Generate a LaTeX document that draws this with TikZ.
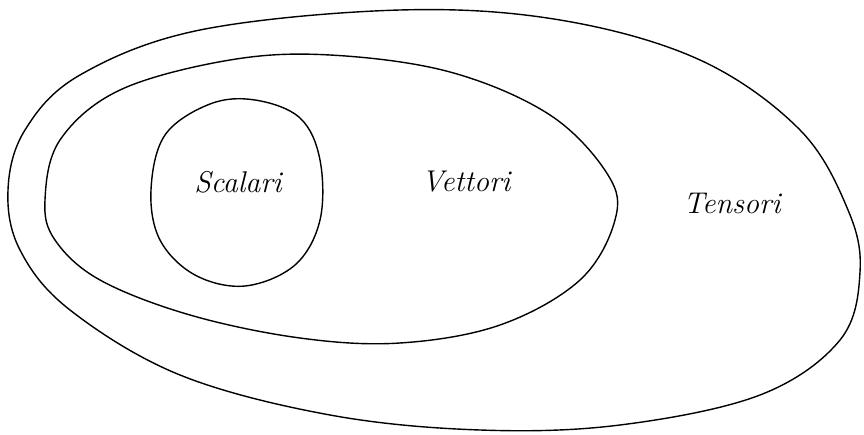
\documentclass[tikz,border=0pt]{standalone}
\begin{document}
\begin{tikzpicture}[x=1pt,y=-1pt,
  loop/.style={draw=black,line width=1.4pt,line join=round},
  lab/.style={font=\itshape\fontsize{30}{30}\selectfont,inner sep=0pt}]
\useasboundingbox (0,0) rectangle (864,435);
\fill[white] (0,0) rectangle (864,435);
% outer set
\draw[loop] plot[smooth cycle,tension=0.6] coordinates
 {(8,190) (25,130) (80,75) (200,30) (400,10) (560,20) (700,60) (800,130)
  (848,210) (860,272) (840,340) (760,395) (620,425) (480,430) (330,415)
  (180,375) (70,310) (20,250)};
% middle set
\draw[loop] plot[smooth cycle,tension=0.6] coordinates
 {(45,200) (60,140) (120,90) (230,60) (330,55) (450,72) (550,115) (608,175)
  (615,220) (580,280) (500,325) (400,343) (300,338) (190,315) (100,280) (55,240)};
% inner set
\draw[loop] plot[smooth cycle,tension=0.6] coordinates
 {(151,190) (165,135) (210,104) (255,100) (300,118) (320,160) (320,220)
  (295,265) (245,286) (195,275) (160,240)};
\node[lab] (s) at (238,182) {Scalari};
\node[lab] (v) at (466,182) {Vettori};
\node[lab] (t) at (732,203) {Tensori};
\end{tikzpicture}
\end{document}
